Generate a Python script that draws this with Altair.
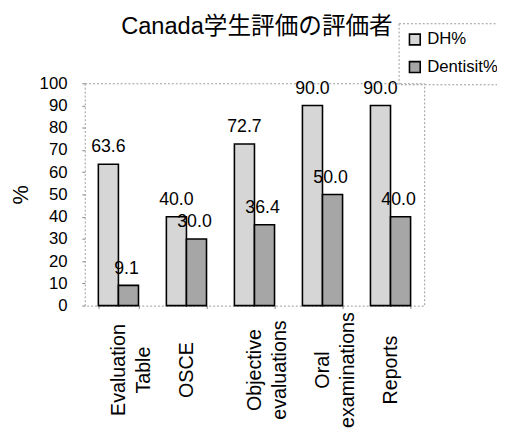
import altair as alt
import pandas as pd

categories = ["Evaluation|Table", "OSCE", "Objective|evaluations", "Oral|examinations", "Reports"]
series = ["DH%", "Dentisit%"]
dh_values = [63.6, 40.0, 72.7, 90.0, 90.0]
dentist_values = [9.1, 30.0, 36.4, 50.0, 40.0]
title_text = "Canada学生評価の評価者"

rows = []
for c, v in zip(categories, dh_values):
    rows.append({"category": c, "series": series[0], "value": v})
for c, v in zip(categories, dentist_values):
    rows.append({"category": c, "series": series[1], "value": v})
df = pd.DataFrame(rows)

FONT = "Liberation Sans, Arial, Noto Sans CJK JP"

x_enc = alt.X(
    "category:N",
    sort=categories,
    scale=alt.Scale(paddingInner=0.41, paddingOuter=0.2),
    axis=alt.Axis(
        title=None,
        labelExpr="split(datum.label, '|')",
        labelAngle=270,
        labelAlign="center",
        labelBaseline="middle",
        labelPadding=62,
        labelFontSize=20,
        labelLineHeight=26,
        labelLimit=300,
        labelColor="black",
        labelFont=FONT,
        domain=False,
        tickBand="extent",
        tickSize=3,
        tickColor="#888",
    ),
)
xo_enc = alt.XOffset("series:N", sort=series, scale=alt.Scale(domain=series, paddingInner=0, paddingOuter=0))
y_enc = alt.Y(
    "value:Q",
    scale=alt.Scale(domain=[0, 100], nice=False),
    axis=alt.Axis(
        title="%",
        titleFontSize=22,
        titleFontWeight="normal",
        titleFont=FONT,
        titleColor="black",
        titleAngle=270,
        titleAlign="center",
        titleBaseline="middle",
        titleX=-65,
        titleY=113,
        values=list(range(0, 101, 10)),
        labelFontSize=17,
        labelColor="black",
        labelFont=FONT,
        labelPadding=15,
        tickSize=3,
        tickColor="#888",
        domain=False,
        grid=False,
    ),
)

bars = alt.Chart(df).mark_bar(stroke="black", strokeWidth=1.6).encode(
    x=x_enc,
    xOffset=xo_enc,
    y=y_enc,
    color=alt.Color(
        "series:N",
        sort=series,
        scale=alt.Scale(domain=series, range=["#d6d6d6", "#a6a6a6"]),
        legend=alt.Legend(
            title=None,
            orient="none",
            legendX=319,
            legendY=-61,
            symbolType="square",
            symbolSize=120,
            symbolStrokeColor="black",
            symbolStrokeWidth=1.6,
            labelFontSize=17,
            labelFont=FONT,
            labelColor="black",
            rowPadding=9,
            padding=8,
            strokeColor="#999",
        ),
    ),
)

text_dent = alt.Chart(df).transform_filter(alt.datum.series == series[1]).mark_text(
    baseline="alphabetic", dy=-12, dx=-2, fontSize=18, font=FONT, color="black"
).encode(x=x_enc, xOffset=xo_enc, y=y_enc, text=alt.Text("value:Q", format=".1f"))

text_dh = alt.Chart(df).transform_filter(alt.datum.series == series[0]).mark_text(
    baseline="alphabetic", dy=-12, fontSize=18, font=FONT, color="black"
).encode(x=x_enc, xOffset=xo_enc, y=y_enc, text=alt.Text("value:Q", format=".1f"))

title_mark = alt.Chart(pd.DataFrame({"t": [title_text]})).mark_text(
    fontSize=24, font=FONT, color="black", align="center", baseline="alphabetic"
).encode(text="t:N", x=alt.value(175), y=alt.value(-50))

chart = (
    alt.layer(bars, text_dent, text_dh, title_mark)
    .properties(
        width=345,
        height=226,
        autosize=alt.AutoSizeParams(type="none"),
        padding={"left": 78, "top": 73, "right": 74, "bottom": 128},
    )
    .configure_view(stroke="#999", strokeDash=[2, 2], strokeWidth=1)
    .configure_legend(strokeDash=[2, 2])
)

chart.save("out.html", embed_options={"renderer": "svg", "actions": False})
